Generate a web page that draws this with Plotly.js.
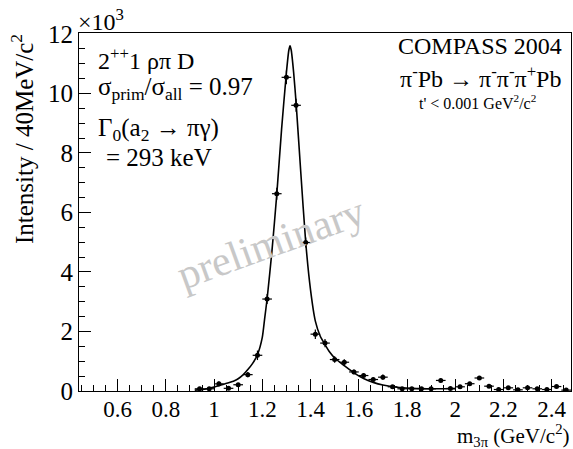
<!DOCTYPE html>
<html>
<head>
<meta charset="utf-8">
<script src="https://cdn.plot.ly/plotly-3.0.1.min.js"></script>
<style>body{margin:0;padding:0;background:#fff;} #chart{width:573px;height:449px;}</style>
</head>
<body>
<div id="chart"></div>
<script>
// measured data points (bin centres, GeV/c^2) and intensities
const massBins = [0.94,0.98,1.02,1.06,1.10,1.14,1.18,1.22,1.26,1.30,1.34,1.38,1.42,1.46,1.50,1.54,1.58,1.62,1.66,1.70,1.74,1.78,1.82,1.86,1.90,1.94,1.98,2.02,2.06,2.10,2.14,2.18,2.22,2.26,2.30,2.34,2.38,2.42,2.46];
const intensity = [75,75,240,90,210,550,1200,3090,6630,10540,9600,4990,1910,1610,1057,967,640,520,386,465,141,74,74,74,74,355,85,141,245,437,162,50,107,40,107,74,50,150,30];
const intensityErr = [30,30,80,40,60,90,160,170,200,230,220,170,160,140,110,100,80,70,70,90,40,30,30,30,30,60,30,40,50,70,40,30,30,30,30,30,30,40,30];
const binHalfWidth = [0.02];

// fit curve
const fitMass = [0.92,0.96,1.00,1.04,1.08,1.10,1.12,1.14,1.16,1.18,1.20,1.21,1.22,1.24,1.26,1.28,1.30,1.31,1.315,1.32,1.33,1.34,1.36,1.38,1.40,1.42,1.44,1.46,1.48,1.50,1.54,1.58,1.62,1.66,1.70,1.74,1.78,1.82,1.86,1.90,1.96,2.00];
const fitValue = [30,60,130,230,330,410,540,720,930,1220,1800,2450,3100,4700,6600,8800,10700,11450,11600,11450,10700,9700,7300,5000,3400,2350,1850,1560,1300,1110,850,610,420,290,200,145,110,90,80,75,75,80];

const yTickVals = [0,2000,4000,6000,8000,10000,12000];
const yTickText = ['0','2','4','6','8','10','12'];

const W = 573, H = 449, L = 79, R = 2, T = 33, B = 58;
const pw = W - L - R, ph = H - T - B;
const X = px => (px - L) / pw;
const Y = py => (H - B - py) / ph;
const serif = 'Liberation Serif, Times New Roman, serif';

const traces = [
  {
    x: fitMass, y: fitValue, type: 'scatter', mode: 'lines',
    line: {color: '#000', width: 1.6, shape: 'spline', smoothing: 0.6},
    hoverinfo: 'skip', showlegend: false
  },
  {
    x: massBins, y: intensity, type: 'scatter', mode: 'markers',
    marker: {color: '#000', size: 5, symbol: 'circle'},
    error_x: {type: 'constant', value: binHalfWidth[0], color: '#000', thickness: 1.2, width: 0},
    error_y: {type: 'data', array: intensityErr, color: '#000', thickness: 1.2, width: 0},
    showlegend: false
  }
];

function ann(text, px, py, size, opts) {
  return Object.assign({
    text: text, xref: 'paper', yref: 'paper', x: X(px), y: Y(py),
    xanchor: 'left', yanchor: 'middle', showarrow: false,
    font: {family: serif, size: size, color: '#000'}
  }, opts || {});
}

const layout = {
  width: W, height: H,
  margin: {l: L, r: R, t: T, b: B, pad: 0},
  paper_bgcolor: '#fff', plot_bgcolor: '#fff',
  showlegend: false,
  xaxis: {
    range: [0.44, 2.48], dtick: 0.2, tick0: 0,
    ticks: 'inside', ticklen: 12, tickwidth: 1, tickcolor: '#000',
    minor: {dtick: 0.05, ticks: 'inside', ticklen: 6, tickwidth: 1, tickcolor: '#000'},
    showgrid: false, zeroline: false,
    showline: true, linecolor: '#000', linewidth: 1, mirror: true,
    ticklabelstandoff: -3,
    tickfont: {family: serif, size: 23, color: '#000'}
  },
  yaxis: {
    range: [0, 12030], tickvals: yTickVals, ticktext: yTickText,
    ticks: 'inside', ticklen: 12, tickwidth: 1, tickcolor: '#000',
    minor: {dtick: 500, ticks: 'inside', ticklen: 6, tickwidth: 1, tickcolor: '#000'},
    showgrid: false, zeroline: false,
    showline: true, linecolor: '#000', linewidth: 1, mirror: true,
    tickfont: {family: serif, size: 25, color: '#000'}
  },
  annotations: [
    ann('×10<sup>3</sup>', 76, 20, 24),
    ann('Intensity / 40MeV/c<sup>2</sup>', 22, 32, 25, {textangle: -90, xanchor: 'center', yanchor: 'top'}),
    ann('m<sub>3π</sub> (GeV/c<sup>2</sup>)', 572, 435, 21, {xanchor: 'right'}),
    ann('2<sup>++</sup>1 ρπ D', 96, 59, 24),
    ann('σ<sub>prim</sub>/σ<sub>all</sub> = 0.97', 96, 89, 25),
    ann('Γ<sub>0</sub>(a<sub>2</sub> → πγ)', 96, 129, 25),
    ann('= 293 keV', 104, 157, 25),
    ann('COMPASS 2004', 564, 46, 24, {xanchor: 'right'}),
    ann('π<sup>-</sup>Pb → π<sup>-</sup>π<sup>-</sup>π<sup>+</sup>Pb', 563, 77, 24, {xanchor: 'right'}),
    ann("t' &lt; 0.001 GeV<sup>2</sup>/c<sup>2</sup>", 477, 102, 16, {xanchor: 'center'}),
    ann('preliminary', 271, 243, 42, {xanchor: 'center', textangle: -20, font: {family: serif, size: 42, color: '#c8c8c8'}})
  ]
};

Plotly.newPlot('chart', traces, layout, {displayModeBar: false, staticPlot: true});
</script>
</body>
</html>
